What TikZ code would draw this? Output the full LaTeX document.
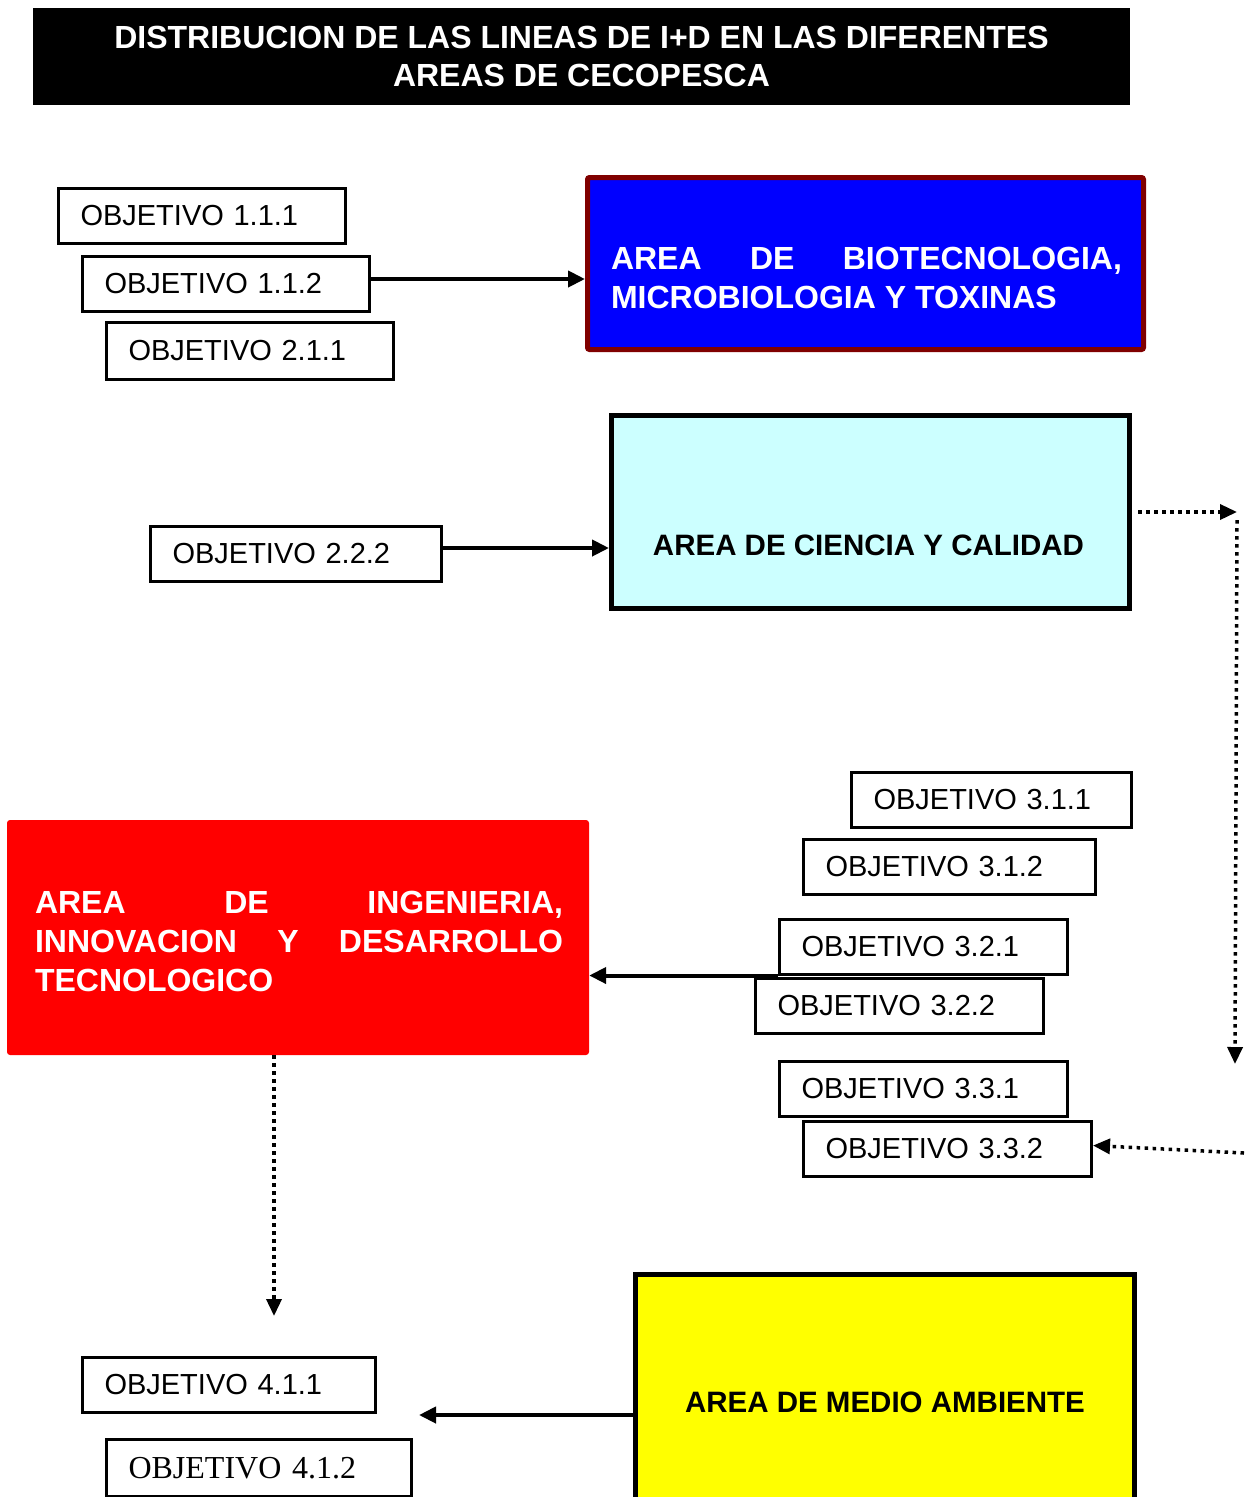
\documentclass[tikz,border=0pt]{standalone}
\usepackage{fontspec}
\setmainfont{Liberation Sans}
\newfontfamily\timesfont{Liberation Serif}
\usetikzlibrary{arrows.meta}
\definecolor{azul}{RGB}{0,0,255}
\definecolor{granate}{RGB}{128,0,0}
\definecolor{celeste}{RGB}{204,255,255}
\definecolor{rojo}{RGB}{255,0,0}
\definecolor{amarillo}{RGB}{255,255,0}
\newcommand{\objfont}{\fontsize{29}{35}\selectfont}
\newcommand{\areafont}{\bfseries\fontsize{32}{39}\selectfont}
\newcommand{\areafontb}{\bfseries\fontsize{29.5}{35}\selectfont}

\begin{document}
\begin{tikzpicture}[x=1pt,y=-1pt]
    \useasboundingbox (0,0) rectangle (1250,1497);
    % titulo
    \node (tit) [fill=black, text=white, minimum width=1097pt, minimum height=97pt, align=center,
        font=\bfseries\fontsize{32}{38}\selectfont] at (581.5,56.5)
        {DISTRIBUCION DE LAS LINEAS DE I+D EN LAS DIFERENTES\\AREAS DE CECOPESCA};
    % areas
    \node (bio) [draw=granate, fill=azul, line width=5pt, rounded corners=2pt, minimum width=556pt, minimum height=172pt] at (865.5,263.5) {};
    \node (biotxt) [text=white, text width=511pt, align=justify, font=\areafont, inner sep=0pt] at (866.5,278)
        {AREA DE BIOTECNOLOGIA,\linebreak MICROBIOLOGIA Y TOXINAS};
    \node (cal) [draw, fill=celeste, line width=5pt, minimum width=518pt, minimum height=193pt] at (870.5,512) {};
    \node (caltxt) [font=\areafontb, inner sep=0pt] at (868.5,545) {AREA DE CIENCIA Y CALIDAD};
    \node (ing) [fill=rojo, rounded corners=3pt, minimum width=582pt, minimum height=235pt] at (298,937.5) {};
    \node (ingtxt) [text=white, text width=528pt, align=justify, font=\areafont, inner sep=0pt] at (299,941.5)
        {AREA DE INGENIERIA,\linebreak INNOVACION Y DESARROLLO\linebreak TECNOLOGICO};
    \node (amb) [draw, fill=amarillo, line width=5pt, minimum width=499pt, minimum height=255pt, font=\areafontb] at (885,1402)
        {AREA DE MEDIO AMBIENTE};
    % objetivos
    \begin{scope}[every node/.style={draw, line width=3pt, inner xsep=22pt, inner ysep=0pt, minimum height=55pt, align=left, font=\objfont}]
        \node (o111) [text width=243pt] at (202,216) {OBJETIVO 1.1.1};
        \node (o112) [text width=243pt] at (226,283.5) {OBJETIVO 1.1.2};
        \node (o211) [text width=243pt, minimum height=57pt] at (250,351) {OBJETIVO 2.1.1};
        \node (o222) [text width=247pt] at (296,553.5) {OBJETIVO 2.2.2};
        \node (o311) [text width=236pt] at (991.5,799.5) {OBJETIVO 3.1.1};
        \node (o312) [text width=248pt] at (949.5,866.5) {OBJETIVO 3.1.2};
        \node (o321) [text width=244pt] at (923.5,946.5) {OBJETIVO 3.2.1};
        \node (o322) [text width=244pt] at (899.5,1006) {OBJETIVO 3.2.2};
        \node (o331) [text width=244pt] at (923.5,1089) {OBJETIVO 3.3.1};
        \node (o332) [text width=244pt] at (947.5,1148.5) {OBJETIVO 3.3.2};
        \node (o411) [text width=249pt] at (229,1384.5) {OBJETIVO 4.1.1};
        \node (o412) [text width=261pt, minimum height=57pt, font=\timesfont\fontsize{32}{38}\selectfont] at (259,1468) {OBJETIVO 4.1.2};
    \end{scope}
    \coordinate (cr1) at (1237,512);
    \coordinate (cr2) at (1235,1064);
    \coordinate (cr3) at (1244,1153);
    \coordinate (cd) at (274,1316);
    \coordinate (cl) at (419,1415);
    \begin{scope}[every edge/.style={draw, line width=4pt, -{Triangle[length=17pt,width=16pt]}}]
        \path
            ([yshift=4.5pt]o112.east) edge ([yshift=4.5pt]o112.east -| bio.west)
            ([yshift=5.5pt]o222.east) edge ([yshift=5.5pt]o222.east -| cal.west)
            (o321.south west) edge (o321.south west -| ing.east)
            (amb.west |- cl) edge (cl);
    \end{scope}
    \begin{scope}[every edge/.style={draw, line width=3.5pt, dash pattern=on 3.5pt off 4.5pt, -{Triangle[length=17pt,width=15pt]}}]
        \path
            ([xshift=6pt]cal.east) edge (cr1)
            ([yshift=-8pt]cr1) edge (cr2)
            (cr3) edge ([yshift=3pt]o332.east)
            (ing.south -| cd) edge (cd);
    \end{scope}
\end{tikzpicture}
\end{document}
